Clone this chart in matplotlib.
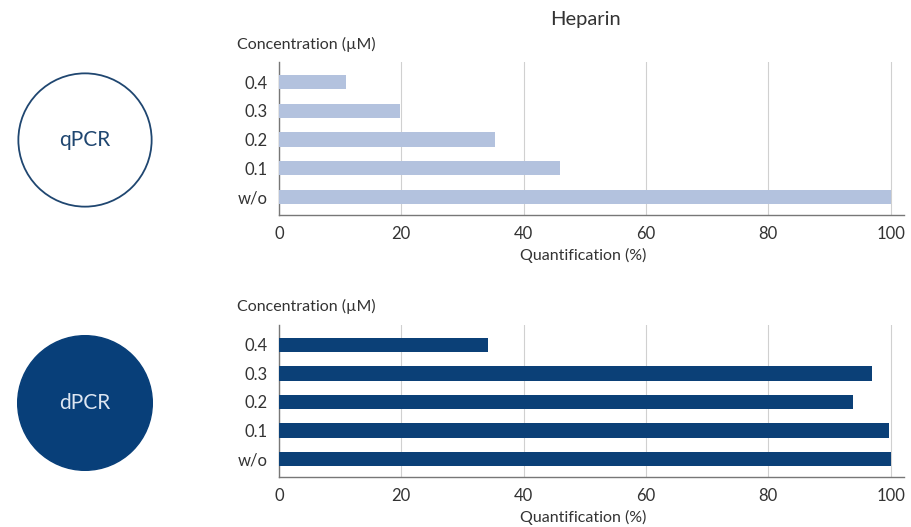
import matplotlib
matplotlib.use('Agg')
import numpy as np
from matplotlib import pyplot as plt
from matplotlib.patches import Circle

# data
conc = ['w/o', '0.1', '0.2', '0.3', '0.4']
qpcr = [100, 45.9, 35.3, 19.8, 10.9]
dpcr = [100, 99.8, 93.8, 97, 34.1]
xticks = [0, 20, 40, 60, 80, 100]

plt.rcParams['font.family'] = ['Lato', 'DejaVu Sans']
txt = '#333333'
light = '#b3c2de'
dark = '#0b4077'

fig = plt.figure(figsize=(9.12, 5.27), dpi=100)

def bar_panel(rect, vals, color):
    ax = fig.add_axes(rect)
    y = np.arange(len(conc))
    ax.barh(y, vals, height=0.5, color=color, zorder=3)
    ax.set_xlim(0, 102.2)
    ax.set_ylim(-0.63, 4.7)
    ax.set_yticks(y)
    ax.set_yticklabels(conc, fontsize=12, color=txt)
    ax.set_xticks(xticks)
    ax.set_xticklabels([str(t) for t in xticks], fontsize=12, color=txt)
    ax.tick_params(length=0, pad=8)
    ax.grid(axis='x', color='#d0d0d0', linewidth=0.8, zorder=0)
    for s in ['top', 'right']:
        ax.spines[s].set_visible(False)
    for s in ['left', 'bottom']:
        ax.spines[s].set_color('#777777')
        ax.spines[s].set_linewidth(1.0)
    ax.set_xlabel('Quantification (%)', fontsize=11.5, color=txt)
    ax.xaxis.set_label_coords(0.486, -0.265)
    ax.xaxis.label.set_va('center')
    return ax

ax1 = bar_panel([279/912, 1-215/527, 625/912, 153/527], qpcr, light)
ax2 = bar_panel([279/912, 1-477/527, 625/912, 152/527], dpcr, dark)

fig.text(585/912, 1-20/527, 'Heparin', ha='center', va='center', fontsize=14.5, color=txt)
fig.text(237/912, 1-44/527, 'Concentration (µM)', ha='left', va='center', fontsize=11.5, color=txt)
fig.text(237/912, 1-306/527, 'Concentration (µM)', ha='left', va='center', fontsize=11.5, color=txt)

# method circles
def circle_badge(cy, label, filled):
    cax = fig.add_axes([17/912, 1-(cy+68)/527, 136/912, 136/527])
    cax.set_xlim(-1, 1)
    cax.set_ylim(-1, 1)
    cax.set_aspect('equal')
    cax.axis('off')
    if filled:
        cax.add_patch(Circle((0, 0), 0.99, facecolor='#083f79', edgecolor='#083f79'))
        cax.text(0, 0, label, ha='center', va='center', fontsize=15, color='#dde6f2')
    else:
        cax.add_patch(Circle((0, 0), 0.98, facecolor='white', edgecolor='#1f4670', linewidth=1.3))
        cax.text(0, 0, label, ha='center', va='center', fontsize=15, color='#1f4670')

circle_badge(140, 'qPCR', False)
circle_badge(403, 'dPCR', True)

plt.savefig('out.png', dpi=100)
